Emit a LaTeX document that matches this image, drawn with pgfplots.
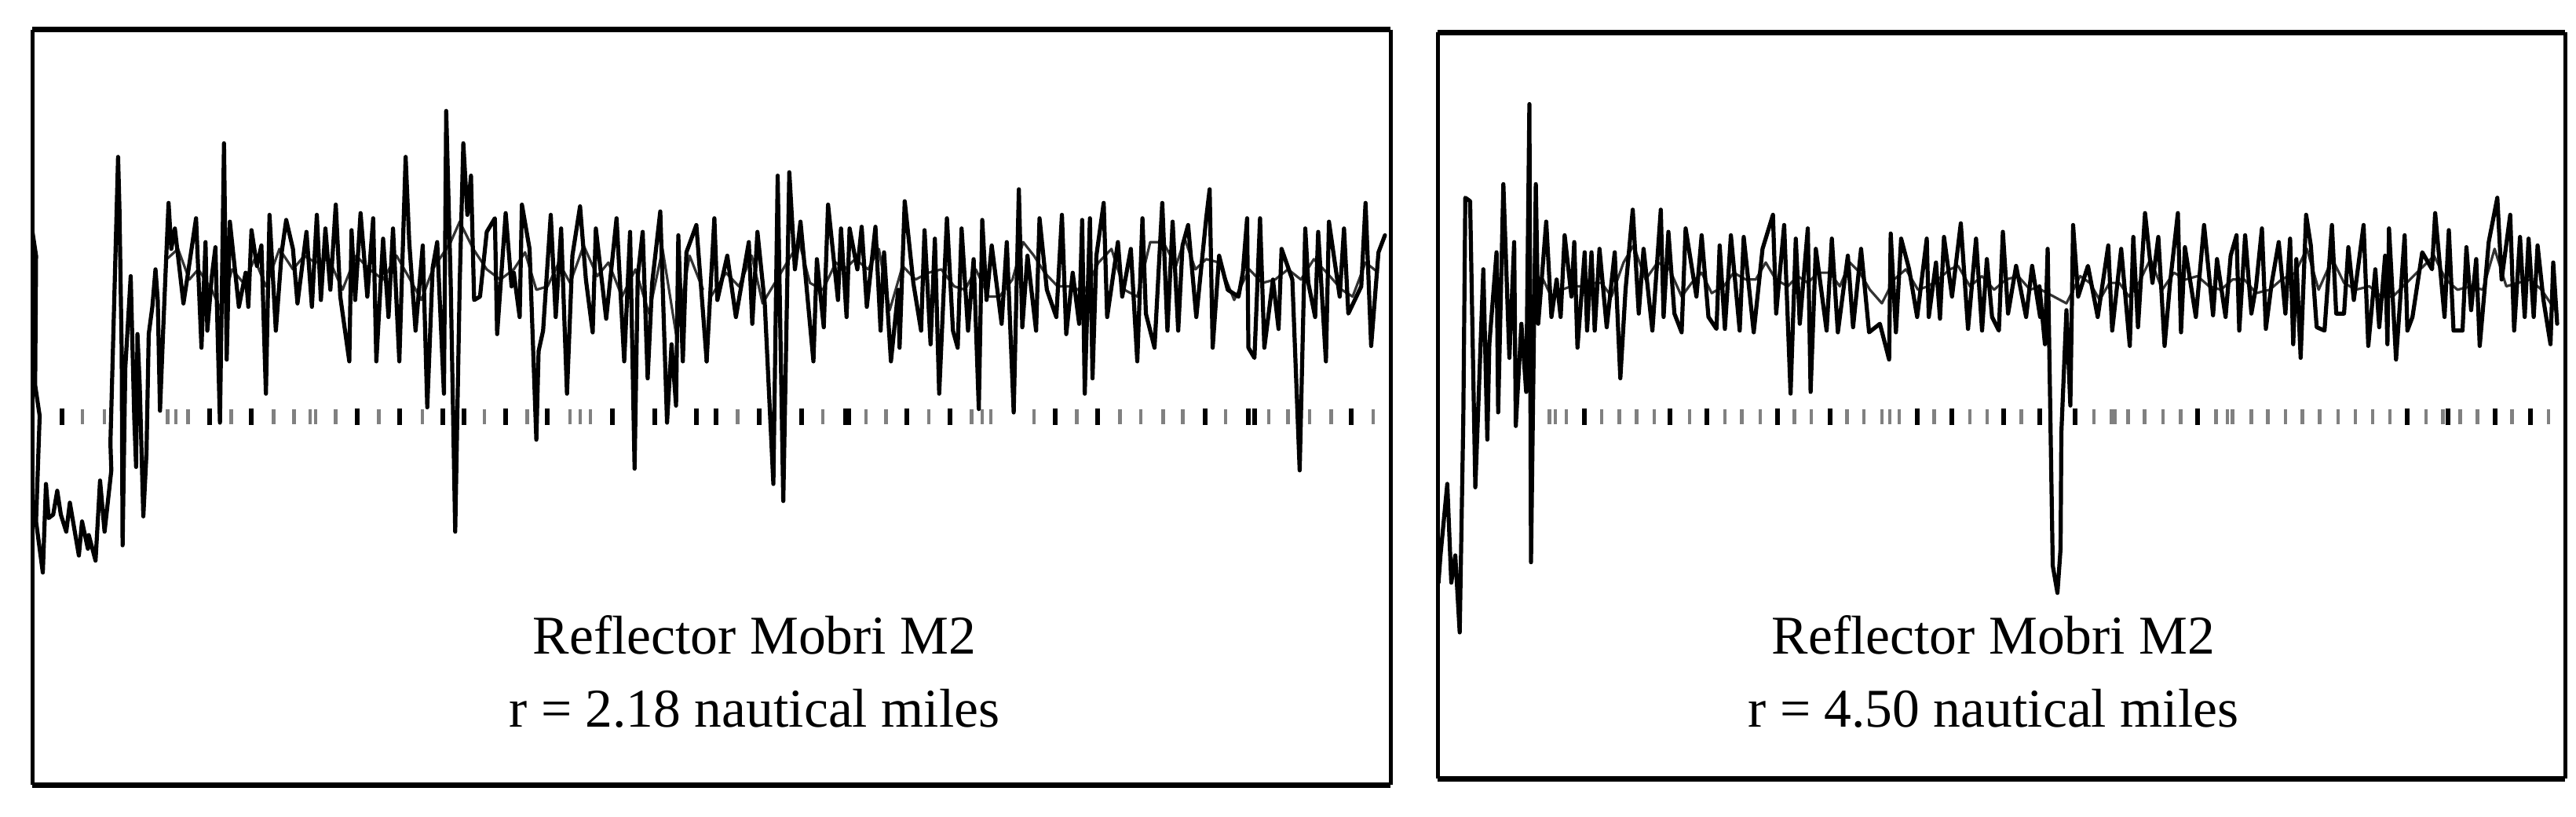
\documentclass[border=0pt]{standalone}
\usepackage{fontspec}
\setmainfont{Liberation Serif}
\usepackage{pgfplots}
\pgfplotsset{compat=1.18}

% one unit of picture = 0.25pt per reference pixel
% x values are read off crops of the reference, so each crop has its own scale
\pgfplotsset{
  scope/.style={
    scale only axis, ticks=none, y dir=reverse, separate axis lines,
    x axis line style={line width=1.75pt}, y axis line style={line width=1.25pt},
  },
  trace/.style={black, line width=1.3pt, line join=round, line cap=round, mark=none},
  strand/.style={black!80, line width=0.8pt, line join=round, mark=none},
  dark/.style={only marks, mark=|, mark size=2.6pt, mark options={black, line width=1.5pt}},
  light/.style={only marks, mark=|, mark size=2.4pt, mark options={black!50, line width=1.15pt}},
  cropa/.style={x filter/.expression={x/1.742}},
  cropb/.style={x filter/.expression={900+x/1.823}},
  cropc/.style={x filter/.expression={1800+x/1.96}},
  cropd/.style={x filter/.expression={2500+x/2.008}},
}

\begin{document}
\begin{tikzpicture}
\useasboundingbox (0,0) rectangle (820.25pt,260pt);

\begin{axis}[scope, at={(10.25pt,10.25pt)}, anchor=south west,
  width=432.5pt, height=240.25pt, xmin=41, xmax=1771, ymin=-143, ymax=2073]
% second, shallower strand of the echo band
\addplot[strand, cropa] coordinates {
(370,530)(395,500)(420,590)(440,560)(470,620)(490,680)(515,560)(540,600)(565,530)(590,610)(620,500)(650,560)(675,520)(700,540)(730,530)(760,620)(790,520)(820,560)(850,590)(880,520)(910,590)(935,650)(960,560)(1000,480)(1020,420)(1050,500)(1080,560)(1110,590)(1140,560)(1165,510)(1190,620)(1215,610)(1240,540)(1265,600)(1295,490)(1325,580)(1350,540)(1380,640)(1410,560)(1440,690)(1470,500)(1500,750)(1530,520)(1560,620)
};
\addplot[strand, cropb] coordinates {
(10,640)(45,570)(75,610)(105,520)(130,660)(215,480)(240,600)(270,620)(300,540)(320,560)(345,530)(375,560)(400,500)(425,680)(455,550)(485,590)(515,570)(545,560)(575,610)(600,620)(625,560)(655,640)(680,640)(710,590)(735,480)(760,520)(785,570)(815,610)(850,610)(875,630)(910,540)(940,500)(970,620)(1000,640)(1030,480)(1060,480)(1090,550)(1110,470)(1135,560)(1160,530)(1190,540)(1225,650)(1260,560)(1290,600)(1320,590)(1350,560)(1380,590)(1410,530)(1440,570)(1475,620)(1500,640)(1530,540)(1560,570)
};
\addplot[trace, cropa] coordinates {
(72,450)(80,520)(78,900)(88,990)(80,1300)(95,1450)(102,1190)(108,1290)(118,1280)(127,1210)(135,1280)(147,1330)(155,1245)(175,1400)(182,1300)(195,1380)(197,1340)(212,1415)(222,1180)(232,1330)(247,1150)(245,1070)(262,230)(265,380)(270,800)(272,1370)(278,850)(290,580)(298,1000)(302,1140)(305,750)(310,900)(318,1285)(325,1100)(330,750)(338,670)(345,560)(350,650)(355,975)(362,740)(368,550)(374,365)(380,500)(388,440)(407,660)(415,590)(435,410)(447,790)(456,480)(460,740)(470,580)(478,495)(488,1010)(497,190)(503,825)(510,420)(530,670)(545,570)(551,670)(558,445)(570,550)(580,490)(590,925)(598,400)(612,740)(625,510)(635,415)(650,500)(660,660)(680,450)(692,670)(703,400)(712,650)(722,440)(733,620)(745,370)(755,640)(775,830)(780,445)(788,650)(800,395)(815,640)(828,410)(835,830)(850,470)(862,700)(872,440)(886,830)(900,230)(908,480)(922,740)(938,490)(948,965)(960,555)(970,480)(985,925)(990,95)(1000,600)(1010,1330)(1020,600)(1028,190)(1037,400)(1045,285)(1052,650)(1065,640)(1080,450)(1098,410)(1103,750)(1122,395)(1135,610)(1140,570)(1153,700)(1158,370)(1175,500)(1190,1060)(1195,800)(1205,740)(1222,400)(1233,700)(1245,440)(1258,925)(1270,520)(1287,375)(1300,590)(1315,745)(1322,440)(1345,705)(1368,410)(1385,830)(1398,450)(1408,1145)(1415,580)(1426,450)(1437,880)(1447,600)(1465,390)(1480,1010)(1490,780)(1500,960)(1505,460)(1515,830)(1523,510)(1545,430)(1568,830)
};
\addplot[trace, cropb] coordinates {
(0,830)(18,410)(25,650)(48,520)(68,700)(98,480)(106,720)(118,450)(135,660)(155,1190)(165,285)(178,1240)(192,275)(205,560)(218,420)(248,830)(256,530)(272,730)(282,370)(305,650)(312,440)(325,700)(332,440)(350,560)(360,435)(372,670)(392,435)(404,740)(412,510)(428,830)(445,620)(448,790)(460,360)(480,600)(498,740)(506,445)(520,780)(530,470)(540,925)(558,410)(572,740)(583,790)(592,440)(607,740)(620,530)(632,970)(640,415)(650,650)(662,490)(685,720)(697,480)(713,980)(725,325)(733,730)(745,520)(765,740)(773,410)(790,620)(812,700)(825,400)(835,750)(850,570)(865,720)(872,415)(878,925)(890,410)(896,880)(905,520)(922,365)(930,700)(955,480)(965,640)(985,500)(1000,830)(1012,410)(1020,690)(1040,790)(1058,365)(1070,740)(1082,420)(1095,740)(1105,490)(1118,430)(1137,700)(1160,410)(1168,325)(1175,790)(1190,520)(1210,620)(1235,640)(1245,570)(1255,410)(1258,790)(1272,820)(1285,410)(1295,790)(1315,590)(1328,735)(1335,500)(1360,590)(1377,1150)(1390,440)(1397,600)(1413,700)(1420,450)(1438,830)(1445,420)(1470,640)(1480,440)(1490,690)(1520,610)(1530,365)(1543,785)(1560,510)(1575,460)
};
\addplot[dark, cropa] coordinates {(138,993)(465,993)(558,993)(793,993)(886,993)(983,993)(1030,993)(1122,993)(1215,993)(1358,993)(1452,993)(1545,993)};
\addplot[light, cropa] coordinates {(183,993)(232,993)(372,993)(390,993)(417,993)(513,993)(607,993)(652,993)(688,993)(700,993)(745,993)(840,993)(937,993)(1075,993)(1170,993)(1265,993)(1287,993)(1310,993)};
\addplot[dark, cropb] coordinates {(22,993)(123,993)(220,993)(322,993)(330,993)(465,993)(565,993)(810,993)(908,993)(1157,993)(1258,993)(1272,993)(1497,993)};
\addplot[light, cropb] coordinates {(72,993)(270,993)(370,993)(416,993)(516,993)(615,993)(640,993)(660,993)(760,993)(860,993)(960,993)(1008,993)(1060,993)(1106,993)(1205,993)(1305,993)(1350,993)(1400,993)(1450,993)(1548,993)};
\end{axis}

\begin{axis}[scope, at={(457.75pt,12.25pt)}, anchor=south west,
  width=359pt, height=237.5pt, xmin=1831, xmax=3267, ymin=-136, ymax=2055]
\addplot[strand, cropc] coordinates {
(320,580)(345,640)(370,620)(395,610)(420,610)(445,600)(470,600)(495,640)(525,540)(550,490)(580,590)(610,540)(640,560)(670,640)(695,600)(720,570)(745,630)(775,610)(800,570)(830,590)(855,590)(880,540)(905,590)(935,610)(960,580)(985,600)(1010,570)(1040,570)(1065,610)(1090,540)(1115,570)(1140,620)(1170,660)(1200,590)(1230,560)(1260,620)(1285,610)(1310,590)(1340,560)(1360,550)(1390,610)(1420,580)(1450,620)(1480,590)(1510,580)(1540,620)(1565,610)
};
\addplot[strand, cropd] coordinates {
(200,620)(265,660)(300,580)(325,600)(350,650)(375,600)(400,600)(425,640)(450,600)(480,530)(510,620)(540,570)(570,590)(600,580)(630,610)(660,620)(690,590)(720,590)(750,630)(785,620)(815,590)(850,570)(880,500)(910,620)(945,530)(975,600)(1005,620)(1040,610)(1070,640)(1100,640)(1135,600)(1170,560)(1205,520)(1235,590)(1265,620)(1300,610)(1330,620)(1360,500)(1390,610)(1420,600)(1450,590)(1480,620)(1515,680)
};
\addplot[trace, cropc] coordinates {
(63,1480)(68,1400)(85,1190)(95,1480)(105,1400)(116,1626)(125,1000)(130,350)(142,360)(155,1200)(175,560)(185,1060)(190,780)(208,510)(212,980)(225,310)(240,820)(252,480)(256,1020)(270,720)(282,920)(290,75)(294,1420)(306,310)(312,720)(332,420)(345,700)(358,590)(368,700)(378,460)(395,640)(402,480)(410,790)(428,510)(434,740)(445,510)(453,740)(465,500)(483,730)(503,510)(517,880)(530,620)(548,385)(563,690)(575,500)(597,740)(618,385)(625,700)(637,450)(652,690)(670,745)(680,440)(707,640)(720,460)(737,700)(757,735)(765,490)(778,735)(793,460)(815,740)(825,465)(850,745)(872,500)(898,400)(906,690)(926,430)(942,925)(955,470)(965,720)(985,440)(992,920)(1005,500)(1032,740)(1045,470)(1060,745)(1085,520)(1098,730)(1118,500)(1138,745)(1165,720)(1188,825)(1192,455)(1205,745)(1218,470)(1238,560)(1258,700)(1282,470)(1287,700)(1305,540)(1315,705)(1325,465)(1345,640)(1367,425)(1385,735)(1405,470)(1420,740)(1432,530)(1445,700)(1462,740)(1472,450)(1485,690)(1505,550)(1530,700)(1545,550)(1565,700)
};
\addplot[trace, cropd] coordinates {
(196,610)(210,780)(217,500)(230,1430)(242,1510)(250,1380)(252,1040)(265,680)(275,960)(282,430)(295,640)(320,550)(345,700)(372,490)(382,740)(405,500)(427,785)(436,465)(448,730)(466,395)(485,600)(500,465)(516,785)(530,600)(550,395)(558,745)(568,495)(596,700)(617,430)(640,695)(650,530)(672,700)(685,520)(700,460)(707,740)(722,460)(738,690)(750,610)(765,440)(775,735)(790,600)(808,480)(825,690)(837,470)(845,780)(853,530)(864,820)(878,400)(890,490)(905,730)(925,740)(944,430)(955,690)(975,690)(986,495)(1000,650)(1025,430)(1037,785)(1055,560)(1065,730)(1080,520)(1086,780)(1090,440)(1108,825)(1130,460)(1137,740)(1150,700)(1175,510)(1200,560)(1208,395)(1232,700)(1243,445)(1255,740)(1278,740)(1288,495)(1300,680)(1313,530)(1322,785)(1345,480)(1367,350)(1378,590)(1400,400)(1410,740)(1425,465)(1437,700)(1447,470)(1460,700)(1470,490)(1485,650)(1503,780)(1510,540)(1520,720)
};
\addplot[dark, cropc] coordinates {(428,993)(640,993)(733,993)(910,993)(1040,993)(1258,993)(1344,993)(1474,993)(1565,993)};
\addplot[light, cropc] coordinates {(340,993)(355,993)(382,993)(470,993)(515,993)(558,993)(602,993)(690,993)(778,993)(820,993)(866,993)(952,993)(994,993)(1083,993)(1125,993)(1170,993)(1190,993)(1213,993)(1300,993)(1390,993)(1433,993)(1518,993)};
\addplot[dark, cropd] coordinates {(288,993)(600,993)(1136,993)(1240,993)(1362,993)(1452,993)};
\addplot[light, cropd] coordinates {(335,993)(380,993)(388,993)(423,993)(465,993)(512,993)(557,993)(647,993)(677,993)(690,993)(738,993)(780,993)(825,993)(868,993)(913,993)(960,993)(1004,993)(1048,993)(1092,993)(1185,993)(1228,993)(1272,993)(1316,993)(1405,993)(1498,993)};
\end{axis}

\begin{scope}[every node/.style={anchor=base, inner sep=0pt, font=\fontsize{17.4}{20}\selectfont}]
\node at (240.25pt,51.75pt) {Reflector Mobri M2};
\node at (240.25pt,28.5pt) {r = 2.18 nautical miles};
\node at (634.75pt,51.75pt) {Reflector Mobri M2};
\node at (634.75pt,28.5pt) {r = 4.50 nautical miles};
\end{scope}
\end{tikzpicture}
\end{document}
